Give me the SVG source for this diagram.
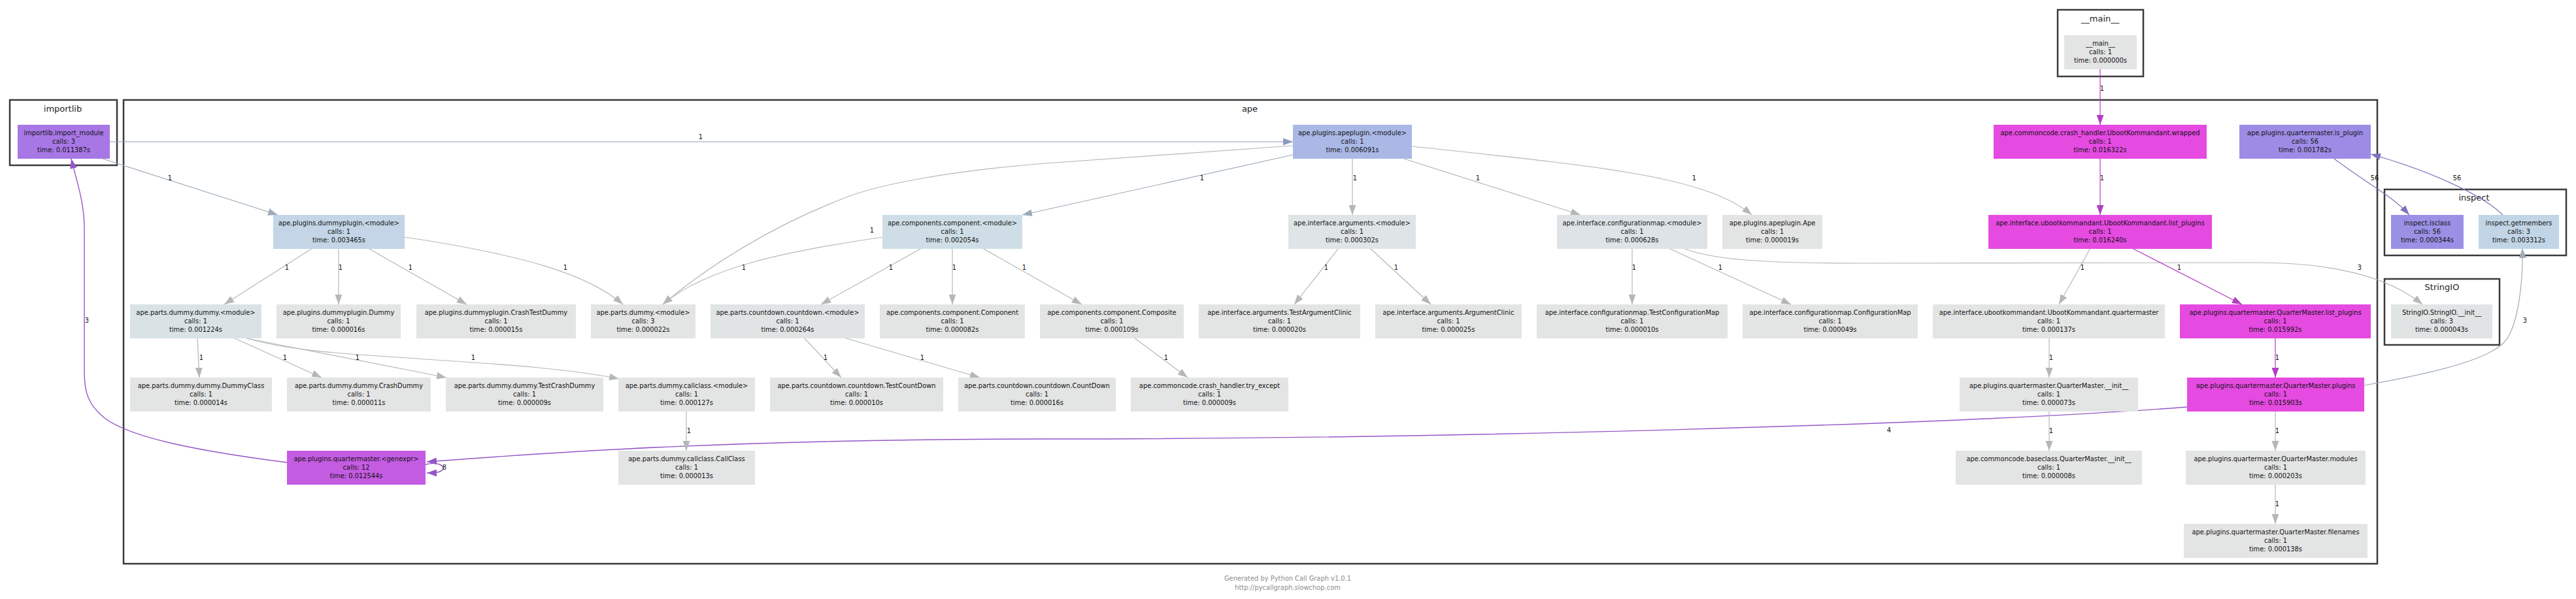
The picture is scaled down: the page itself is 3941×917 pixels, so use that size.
<svg xmlns="http://www.w3.org/2000/svg" width="3941" height="917" viewBox="0 0 3941 917">
<style>
text{font-family:"DejaVu Sans","Liberation Sans",sans-serif}
.nt{font-size:9.9px;fill:#111;text-anchor:middle}
.cl{fill:none;stroke:#3a3a3a;stroke-width:2.5}
.ct{font-size:13px;fill:#222;text-anchor:middle}
.el{font-size:9.9px;fill:#111;text-anchor:middle}
.ft{font-size:9.9px;fill:#8c8c8c;text-anchor:middle}
.e{fill:none;stroke-width:1.2}
.g{stroke:#b4b7b7;marker-end:url(#mg)}
.b{stroke:#8c9ac0;marker-end:url(#mb)}
.s{stroke:#9eabb8;marker-end:url(#ms)}
.m{stroke:#b13fc1;marker-end:url(#mm)}
.p{stroke:#9456c6;stroke-width:1.4;marker-end:url(#mp)}
.v{stroke:#7c74bc;marker-end:url(#mv)}
.gray{fill:#e3e4e4}
.mag{fill:#e54ae1}
</style>
<defs>
<marker id="mg" viewBox="0 0 15 11" refX="15" refY="5.5" markerWidth="15" markerHeight="11" markerUnits="userSpaceOnUse" orient="auto"><path d="M0,0L15,5.5L0,11z" fill="#b4b7b7"/></marker>
<marker id="mb" viewBox="0 0 15 11" refX="15" refY="5.5" markerWidth="15" markerHeight="11" markerUnits="userSpaceOnUse" orient="auto"><path d="M0,0L15,5.5L0,11z" fill="#8c9ac0"/></marker>
<marker id="ms" viewBox="0 0 15 11" refX="15" refY="5.5" markerWidth="15" markerHeight="11" markerUnits="userSpaceOnUse" orient="auto"><path d="M0,0L15,5.5L0,11z" fill="#9eabb8"/></marker>
<marker id="mm" viewBox="0 0 15 11" refX="15" refY="5.5" markerWidth="15" markerHeight="11" markerUnits="userSpaceOnUse" orient="auto"><path d="M0,0L15,5.5L0,11z" fill="#b13fc1"/></marker>
<marker id="mp" viewBox="0 0 15 11" refX="15" refY="5.5" markerWidth="15" markerHeight="11" markerUnits="userSpaceOnUse" orient="auto"><path d="M0,0L15,5.5L0,11z" fill="#9456c6"/></marker>
<marker id="mv" viewBox="0 0 15 11" refX="15" refY="5.5" markerWidth="15" markerHeight="11" markerUnits="userSpaceOnUse" orient="auto"><path d="M0,0L15,5.5L0,11z" fill="#7c74bc"/></marker>
</defs>
<rect width="3941" height="917" fill="#fff"/>

<g id="clusters">
<rect class="cl" x="3148" y="15" width="131" height="102"/>
<text class="ct" x="3213" y="33">__main__</text>
<rect class="cl" x="15" y="153" width="164" height="100"/>
<text class="ct" x="96" y="171">importlib</text>
<rect class="cl" x="189" y="153" width="3448" height="710"/>
<text class="ct" x="1912" y="171">ape</text>
<rect class="cl" x="3648" y="290" width="278" height="101"/>
<text class="ct" x="3785" y="307">inspect</text>
<rect class="cl" x="3648" y="427" width="176" height="101"/>
<text class="ct" x="3736" y="444">StringIO</text>
</g>

<g id="edges">
<path class="e b" d="M168,217L1978,217"/>
<path class="e s" d="M157,243L425,329"/>
<path class="e g" d="M1978,223L1600,250C1450,262 1350,282 1300,300C1180,345 1080,410 1014,466"/>
<path class="e s" d="M1978,237L1564,329"/>
<path class="e g" d="M2069,243L2069,329"/>
<path class="e g" d="M2148,243L2418,329"/>
<path class="e g" d="M2160,224C2450,255 2610,270 2680,329"/>
<path class="e g" d="M478,380L343,466"/>
<path class="e g" d="M518,380L518,466"/>
<path class="e g" d="M563,380L714,466"/>
<path class="e g" d="M619,363C800,390 900,420 953,466"/>
<path class="e g" d="M1350,363C1200,385 1080,410 1014,466"/>
<path class="e g" d="M1410,380L1256,466"/>
<path class="e g" d="M1457,380L1457,466"/>
<path class="e g" d="M1503,380L1655,466"/>
<path class="e g" d="M2048,380L1980,466"/>
<path class="e g" d="M2096,380L2189,466"/>
<path class="e g" d="M2497,380L2497,466"/>
<path class="e g" d="M2553,380L2740,466"/>
<path class="e g" d="M2575,380C2620,398 2700,403 2850,403L3450,402C3560,402 3650,420 3706,466"/>
<path class="e m" d="M3213,106L3213,191"/>
<path class="e m" d="M3213,243L3213,329"/>
<path class="e g" d="M3198,380L3150,466"/>
<path class="e m" d="M3262,380L3430,466"/>
<path class="e v" d="M3571,243C3620,280 3660,300 3686,329"/>
<path class="e v" d="M3829,329C3800,300 3720,262 3627,236"/>
<path class="e m" d="M3481,518L3481,578"/>
<path class="e s" d="M3617,590C3700,575 3800,555 3830,525C3855,500 3860,420 3859,380"/>
<path class="e g" d="M3481,630L3481,690"/>
<path class="e g" d="M3481,742L3481,802"/>
<path class="e p" d="M3346,623C3000,650 2200,672 1600,672C1100,672 800,696 653,707"/>
<path class="e p" d="M651,711C672,706 681,714 677,719C674,723 668,724 653,724"/>
<path class="e p" d="M439,708C300,690 200,670 160,640C135,620 129,600 129,570L129,350C129,310 118,280 109,243"/>
<path class="e g" d="M302,517L305,578"/>
<path class="e g" d="M357,517L492,578"/>
<path class="e g" d="M372,517L683,578"/>
<path class="e g" d="M375,517C450,540 550,542 650,550C780,558 880,566 947,580"/>
<path class="e g" d="M1050,629L1050,690"/>
<path class="e g" d="M1230,517L1287,578"/>
<path class="e g" d="M1291,517L1499,578"/>
<path class="e g" d="M1735,517L1817,578"/>
<path class="e g" d="M3135,517L3135,578"/>
<path class="e g" d="M3135,629L3135,690"/>
</g>

<g id="edge-labels">
<text class="el" x="1072" y="212.6">1</text>
<text class="el" x="260" y="275.6">1</text>
<text class="el" x="1334" y="355.6">1</text>
<text class="el" x="1839" y="275.6">1</text>
<text class="el" x="2073" y="275.6">1</text>
<text class="el" x="2261" y="275.6">1</text>
<text class="el" x="2592" y="275.6">1</text>
<text class="el" x="439" y="412.6">1</text>
<text class="el" x="521" y="412.6">1</text>
<text class="el" x="628" y="412.6">1</text>
<text class="el" x="865" y="412.6">1</text>
<text class="el" x="1138" y="412.6">1</text>
<text class="el" x="1363" y="412.6">1</text>
<text class="el" x="1460" y="412.6">1</text>
<text class="el" x="1567" y="412.6">1</text>
<text class="el" x="2029" y="412.6">1</text>
<text class="el" x="2136" y="412.6">1</text>
<text class="el" x="2500" y="412.6">1</text>
<text class="el" x="2632" y="412.6">1</text>
<text class="el" x="3610" y="412.6">3</text>
<text class="el" x="3216" y="138.6">1</text>
<text class="el" x="3216" y="275.6">1</text>
<text class="el" x="3186" y="412.6">1</text>
<text class="el" x="3334" y="412.6">1</text>
<text class="el" x="3633" y="275.6">56</text>
<text class="el" x="3759" y="275.6">56</text>
<text class="el" x="3484" y="550.6">1</text>
<text class="el" x="3863" y="493.6">3</text>
<text class="el" x="3484" y="662.6">1</text>
<text class="el" x="3484" y="774.6">1</text>
<text class="el" x="2890" y="661.6">4</text>
<text class="el" x="680" y="718.6">8</text>
<text class="el" x="133" y="493.6">3</text>
<text class="el" x="308" y="550.6">1</text>
<text class="el" x="436" y="550.6">1</text>
<text class="el" x="547" y="550.6">1</text>
<text class="el" x="724" y="550.6">1</text>
<text class="el" x="1054" y="662.6">1</text>
<text class="el" x="1263" y="550.6">1</text>
<text class="el" x="1411" y="550.6">1</text>
<text class="el" x="1784" y="550.6">1</text>
<text class="el" x="3138" y="550.6">1</text>
<text class="el" x="3138" y="662.6">1</text>
</g>

<g id="n_main"><rect class="gray" x="3158" y="54" width="111" height="52"/><text class="nt"><tspan x="3213.5" y="69.5">__main__</tspan><tspan x="3213.5" y="82.5">calls: 1</tspan><tspan x="3213.5" y="95.5">time: 0.000000s</tspan></text></g>

<g id="n_import_module"><rect fill="#a877e6" x="27" y="191" width="141" height="52"/><text class="nt"><tspan x="97.5" y="206.5">importlib.import_module</tspan><tspan x="97.5" y="219.5">calls: 3</tspan><tspan x="97.5" y="232.5">time: 0.011387s</tspan></text></g>
<g id="n_apeplugin_module"><rect fill="#aab8e6" x="1978" y="191" width="182" height="52"/><text class="nt"><tspan x="2069" y="206.5">ape.plugins.apeplugin.&lt;module&gt;</tspan><tspan x="2069" y="219.5">calls: 1</tspan><tspan x="2069" y="232.5">time: 0.006091s</tspan></text></g>
<g id="n_wrapped"><rect class="mag" x="3050" y="191" width="326" height="52"/><text class="nt"><tspan x="3213" y="206.5">ape.commoncode.crash_handler.UbootKommandant.wrapped</tspan><tspan x="3213" y="219.5">calls: 1</tspan><tspan x="3213" y="232.5">time: 0.016322s</tspan></text></g>
<g id="n_is_plugin"><rect fill="#9d8ce6" x="3426" y="191" width="201" height="52"/><text class="nt"><tspan x="3526.5" y="206.5">ape.plugins.quartermaster.is_plugin</tspan><tspan x="3526.5" y="219.5">calls: 56</tspan><tspan x="3526.5" y="232.5">time: 0.001782s</tspan></text></g>

<g id="n_dummyplugin_module"><rect fill="#c3d5e6" x="418" y="329" width="201" height="52"/><text class="nt"><tspan x="518.5" y="344.5">ape.plugins.dummyplugin.&lt;module&gt;</tspan><tspan x="518.5" y="357.5">calls: 1</tspan><tspan x="518.5" y="370.5">time: 0.003465s</tspan></text></g>
<g id="n_component_module"><rect fill="#cfdee6" x="1350" y="329" width="214" height="52"/><text class="nt"><tspan x="1457" y="344.5">ape.components.component.&lt;module&gt;</tspan><tspan x="1457" y="357.5">calls: 1</tspan><tspan x="1457" y="370.5">time: 0.002054s</tspan></text></g>
<g id="n_arguments_module"><rect fill="#dfe4e6" x="1971" y="329" width="195" height="52"/><text class="nt"><tspan x="2068.5" y="344.5">ape.interface.arguments.&lt;module&gt;</tspan><tspan x="2068.5" y="357.5">calls: 1</tspan><tspan x="2068.5" y="370.5">time: 0.000302s</tspan></text></g>
<g id="n_configurationmap_module"><rect fill="#dde3e6" x="2382" y="329" width="230" height="52"/><text class="nt"><tspan x="2497" y="344.5">ape.interface.configurationmap.&lt;module&gt;</tspan><tspan x="2497" y="357.5">calls: 1</tspan><tspan x="2497" y="370.5">time: 0.000628s</tspan></text></g>
<g id="n_apeplugin_Ape"><rect class="gray" x="2635" y="329" width="153" height="52"/><text class="nt"><tspan x="2711.5" y="344.5">ape.plugins.apeplugin.Ape</tspan><tspan x="2711.5" y="357.5">calls: 1</tspan><tspan x="2711.5" y="370.5">time: 0.000019s</tspan></text></g>
<g id="n_uboot_list_plugins"><rect class="mag" x="3042" y="329" width="342" height="52"/><text class="nt"><tspan x="3213" y="344.5">ape.interface.ubootkommandant.UbootKommandant.list_plugins</tspan><tspan x="3213" y="357.5">calls: 1</tspan><tspan x="3213" y="370.5">time: 0.016240s</tspan></text></g>
<g id="n_isclass"><rect fill="#9a91e6" x="3658" y="329" width="111" height="52"/><text class="nt"><tspan x="3713.5" y="344.5">inspect.isclass</tspan><tspan x="3713.5" y="357.5">calls: 56</tspan><tspan x="3713.5" y="370.5">time: 0.000344s</tspan></text></g>
<g id="n_getmembers"><rect fill="#c2d5e6" x="3792" y="329" width="123" height="52"/><text class="nt"><tspan x="3853.5" y="344.5">inspect.getmembers</tspan><tspan x="3853.5" y="357.5">calls: 3</tspan><tspan x="3853.5" y="370.5">time: 0.003312s</tspan></text></g>

<g id="n_dummy_dummy_module"><rect fill="#d9e3e6" x="199" y="466" width="201" height="52"/><text class="nt"><tspan x="299.5" y="481.5">ape.parts.dummy.dummy.&lt;module&gt;</tspan><tspan x="299.5" y="494.5">calls: 1</tspan><tspan x="299.5" y="507.5">time: 0.001224s</tspan></text></g>
<g id="n_dummyplugin_Dummy"><rect class="gray" x="423" y="466" width="190" height="52"/><text class="nt"><tspan x="518" y="481.5">ape.plugins.dummyplugin.Dummy</tspan><tspan x="518" y="494.5">calls: 1</tspan><tspan x="518" y="507.5">time: 0.000016s</tspan></text></g>
<g id="n_dummyplugin_CrashTestDummy"><rect class="gray" x="637" y="466" width="244" height="52"/><text class="nt"><tspan x="759" y="481.5">ape.plugins.dummyplugin.CrashTestDummy</tspan><tspan x="759" y="494.5">calls: 1</tspan><tspan x="759" y="507.5">time: 0.000015s</tspan></text></g>
<g id="n_parts_dummy_module"><rect class="gray" x="904" y="466" width="160" height="52"/><text class="nt"><tspan x="984" y="481.5">ape.parts.dummy.&lt;module&gt;</tspan><tspan x="984" y="494.5">calls: 3</tspan><tspan x="984" y="507.5">time: 0.000022s</tspan></text></g>
<g id="n_countdown_module"><rect fill="#e0e4e5" x="1087" y="466" width="236" height="52"/><text class="nt"><tspan x="1205" y="481.5">ape.parts.countdown.countdown.&lt;module&gt;</tspan><tspan x="1205" y="494.5">calls: 1</tspan><tspan x="1205" y="507.5">time: 0.000264s</tspan></text></g>
<g id="n_Component"><rect class="gray" x="1346" y="466" width="222" height="52"/><text class="nt"><tspan x="1457" y="481.5">ape.components.component.Component</tspan><tspan x="1457" y="494.5">calls: 1</tspan><tspan x="1457" y="507.5">time: 0.000082s</tspan></text></g>
<g id="n_Composite"><rect class="gray" x="1591" y="466" width="220" height="52"/><text class="nt"><tspan x="1701" y="481.5">ape.components.component.Composite</tspan><tspan x="1701" y="494.5">calls: 1</tspan><tspan x="1701" y="507.5">time: 0.000109s</tspan></text></g>
<g id="n_TestArgumentClinic"><rect class="gray" x="1834" y="466" width="247" height="52"/><text class="nt"><tspan x="1957.5" y="481.5">ape.interface.arguments.TestArgumentClinic</tspan><tspan x="1957.5" y="494.5">calls: 1</tspan><tspan x="1957.5" y="507.5">time: 0.000020s</tspan></text></g>
<g id="n_ArgumentClinic"><rect class="gray" x="2104" y="466" width="224" height="52"/><text class="nt"><tspan x="2216" y="481.5">ape.interface.arguments.ArgumentClinic</tspan><tspan x="2216" y="494.5">calls: 1</tspan><tspan x="2216" y="507.5">time: 0.000025s</tspan></text></g>
<g id="n_TestConfigurationMap"><rect class="gray" x="2351" y="466" width="292" height="52"/><text class="nt"><tspan x="2497" y="481.5">ape.interface.configurationmap.TestConfigurationMap</tspan><tspan x="2497" y="494.5">calls: 1</tspan><tspan x="2497" y="507.5">time: 0.000010s</tspan></text></g>
<g id="n_ConfigurationMap"><rect class="gray" x="2666" y="466" width="268" height="52"/><text class="nt"><tspan x="2800" y="481.5">ape.interface.configurationmap.ConfigurationMap</tspan><tspan x="2800" y="494.5">calls: 1</tspan><tspan x="2800" y="507.5">time: 0.000049s</tspan></text></g>
<g id="n_uboot_quartermaster"><rect class="gray" x="2957" y="466" width="355" height="52"/><text class="nt"><tspan x="3134.5" y="481.5">ape.interface.ubootkommandant.UbootKommandant.quartermaster</tspan><tspan x="3134.5" y="494.5">calls: 1</tspan><tspan x="3134.5" y="507.5">time: 0.000137s</tspan></text></g>
<g id="n_QM_list_plugins"><rect class="mag" x="3335" y="466" width="292" height="52"/><text class="nt"><tspan x="3481" y="481.5">ape.plugins.quartermaster.QuarterMaster.list_plugins</tspan><tspan x="3481" y="494.5">calls: 1</tspan><tspan x="3481" y="507.5">time: 0.015992s</tspan></text></g>
<g id="n_StringIO_init"><rect fill="#e0e4e4" x="3658" y="466" width="155" height="52"/><text class="nt"><tspan x="3735.5" y="481.5">StringIO.StringIO.__init__</tspan><tspan x="3735.5" y="494.5">calls: 3</tspan><tspan x="3735.5" y="507.5">time: 0.000043s</tspan></text></g>

<g id="n_DummyClass"><rect class="gray" x="199" y="578" width="217" height="52"/><text class="nt"><tspan x="307.5" y="593.5">ape.parts.dummy.dummy.DummyClass</tspan><tspan x="307.5" y="606.5">calls: 1</tspan><tspan x="307.5" y="619.5">time: 0.000014s</tspan></text></g>
<g id="n_CrashDummy"><rect class="gray" x="439" y="578" width="220" height="52"/><text class="nt"><tspan x="549" y="593.5">ape.parts.dummy.dummy.CrashDummy</tspan><tspan x="549" y="606.5">calls: 1</tspan><tspan x="549" y="619.5">time: 0.000011s</tspan></text></g>
<g id="n_TestCrashDummy"><rect class="gray" x="682" y="578" width="241" height="52"/><text class="nt"><tspan x="802.5" y="593.5">ape.parts.dummy.dummy.TestCrashDummy</tspan><tspan x="802.5" y="606.5">calls: 1</tspan><tspan x="802.5" y="619.5">time: 0.000009s</tspan></text></g>
<g id="n_callclass_module"><rect class="gray" x="946" y="578" width="209" height="52"/><text class="nt"><tspan x="1050.5" y="593.5">ape.parts.dummy.callclass.&lt;module&gt;</tspan><tspan x="1050.5" y="606.5">calls: 1</tspan><tspan x="1050.5" y="619.5">time: 0.000127s</tspan></text></g>
<g id="n_TestCountDown"><rect class="gray" x="1178" y="578" width="265" height="52"/><text class="nt"><tspan x="1310.5" y="593.5">ape.parts.countdown.countdown.TestCountDown</tspan><tspan x="1310.5" y="606.5">calls: 1</tspan><tspan x="1310.5" y="619.5">time: 0.000010s</tspan></text></g>
<g id="n_CountDown"><rect class="gray" x="1466" y="578" width="241" height="52"/><text class="nt"><tspan x="1586.5" y="593.5">ape.parts.countdown.countdown.CountDown</tspan><tspan x="1586.5" y="606.5">calls: 1</tspan><tspan x="1586.5" y="619.5">time: 0.000016s</tspan></text></g>
<g id="n_try_except"><rect class="gray" x="1730" y="578" width="241" height="52"/><text class="nt"><tspan x="1850.5" y="593.5">ape.commoncode.crash_handler.try_except</tspan><tspan x="1850.5" y="606.5">calls: 1</tspan><tspan x="1850.5" y="619.5">time: 0.000009s</tspan></text></g>
<g id="n_QM_init"><rect class="gray" x="2998" y="578" width="273" height="52"/><text class="nt"><tspan x="3134.5" y="593.5">ape.plugins.quartermaster.QuarterMaster.__init__</tspan><tspan x="3134.5" y="606.5">calls: 1</tspan><tspan x="3134.5" y="619.5">time: 0.000073s</tspan></text></g>
<g id="n_QM_plugins"><rect class="mag" x="3346" y="578" width="271" height="52"/><text class="nt"><tspan x="3481.5" y="593.5">ape.plugins.quartermaster.QuarterMaster.plugins</tspan><tspan x="3481.5" y="606.5">calls: 1</tspan><tspan x="3481.5" y="619.5">time: 0.015903s</tspan></text></g>

<g id="n_genexpr"><rect fill="#c45ce2" x="439" y="690" width="212" height="52"/><text class="nt"><tspan x="545" y="705.5">ape.plugins.quartermaster.&lt;genexpr&gt;</tspan><tspan x="545" y="718.5">calls: 12</tspan><tspan x="545" y="731.5">time: 0.012544s</tspan></text></g>
<g id="n_CallClass"><rect class="gray" x="946" y="690" width="209" height="52"/><text class="nt"><tspan x="1050.5" y="705.5">ape.parts.dummy.callclass.CallClass</tspan><tspan x="1050.5" y="718.5">calls: 1</tspan><tspan x="1050.5" y="731.5">time: 0.000013s</tspan></text></g>
<g id="n_baseclass_QM_init"><rect class="gray" x="2992" y="690" width="285" height="52"/><text class="nt"><tspan x="3134.5" y="705.5">ape.commoncode.baseclass.QuarterMaster.__init__</tspan><tspan x="3134.5" y="718.5">calls: 1</tspan><tspan x="3134.5" y="731.5">time: 0.000008s</tspan></text></g>
<g id="n_QM_modules"><rect class="gray" x="3344" y="690" width="275" height="52"/><text class="nt"><tspan x="3481.5" y="705.5">ape.plugins.quartermaster.QuarterMaster.modules</tspan><tspan x="3481.5" y="718.5">calls: 1</tspan><tspan x="3481.5" y="731.5">time: 0.000203s</tspan></text></g>

<g id="n_QM_filenames"><rect class="gray" x="3341" y="802" width="281" height="52"/><text class="nt"><tspan x="3481.5" y="817.5">ape.plugins.quartermaster.QuarterMaster.filenames</tspan><tspan x="3481.5" y="830.5">calls: 1</tspan><tspan x="3481.5" y="843.5">time: 0.000138s</tspan></text></g>

<g id="footer">
<text class="ft" x="1970" y="888.5">Generated by Python Call Graph v1.0.1</text>
<text class="ft" x="1970" y="902.5">http://pycallgraph.slowchop.com</text>
</g>
</svg>
